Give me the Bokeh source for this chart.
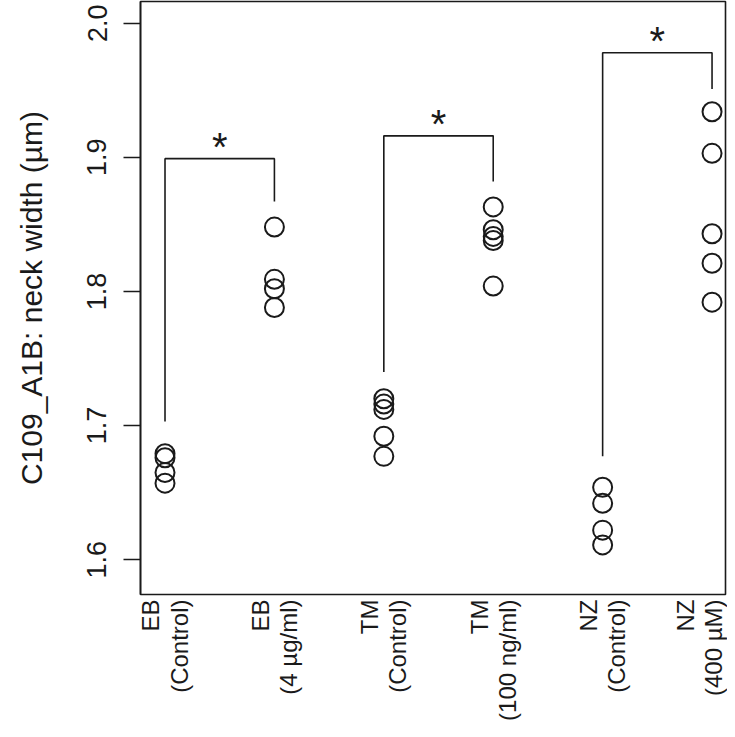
import math
from bokeh.plotting import figure
from bokeh.models import FixedTicker, ColumnDataSource, PrintfTickFormatter
from bokeh.core.properties import value
from bokeh.embed import file_html
from bokeh.resources import INLINE

# ---- data ----
group_labels = ["EB\n(Control)", "EB\n(4 µg/ml)", "TM\n(Control)",
                "TM\n(100 ng/ml)", "NZ\n(Control)", "NZ\n(400 µM)"]
eb_control = [1.679, 1.676, 1.665, 1.657]
eb_treated = [1.848, 1.809, 1.802, 1.788]
tm_control = [1.720, 1.716, 1.712, 1.692, 1.677]
tm_treated = [1.863, 1.846, 1.841, 1.838, 1.804]
nz_control = [1.654, 1.642, 1.622, 1.611]
nz_treated = [1.934, 1.903, 1.843, 1.821, 1.792]
groups = [eb_control, eb_treated, tm_control, tm_treated, nz_control, nz_treated]

# significance brackets: (left group, right group), ends, tops
bracket_pairs = [(1, 2), (3, 4), (5, 6)]
bracket_left_end = [1.703, 1.740, 1.677]
bracket_right_end = [1.867, 1.882, 1.951]
bracket_top = [1.899, 1.916, 1.978]
bracket_mark = ["*", "*", "*"]

yticks = [1.6, 1.7, 1.8, 1.9, 2.0]

FONT = "Liberation Sans"
INK = "#1a1a1a"

p = figure(width=727, height=729, output_backend="svg", toolbar_location=None,
           x_range=(0.776, 6.123), y_range=(1.574, 2.0162),
           min_border_left=140, min_border_right=2, min_border_top=1,
           min_border_bottom=135)
p.grid.visible = False
p.outline_line_color = INK
p.outline_line_width = 1.6
p.background_fill_color = "white"
p.border_fill_color = "white"

# points
xs, ys = [], []
for i, g in enumerate(groups):
    xs += [i + 1] * len(g)
    ys += g
p.scatter(x=xs, y=ys, size=19, marker="circle", fill_color=None,
          line_color=INK, line_width=2)

# brackets
bx, by = [], []
for (a, b), yl, yr, yt in zip(bracket_pairs, bracket_left_end, bracket_right_end, bracket_top):
    bx.append([a, a, b, b])
    by.append([yl, yt, yt, yr])
p.multi_line(xs=bx, ys=by, line_color=INK, line_width=1.6)

src = ColumnDataSource(dict(x=[(a + b) / 2 for a, b in bracket_pairs],
                            y=bracket_top, t=bracket_mark))
p.text(x="x", y="y", text="t", source=src, text_font=value(FONT),
       text_font_size="40px", text_align="center", text_baseline="alphabetic",
       y_offset=-12, text_color=INK)

# y axis
ya = p.yaxis[0]
ya.ticker = FixedTicker(ticks=yticks)
ya.formatter = PrintfTickFormatter(format="%.1f")
ya.minor_tick_line_color = None
ya.major_tick_out = 17
ya.major_tick_in = 0
ya.major_tick_line_width = 1.6
ya.major_tick_line_color = INK
ya.axis_line_color = INK
ya.axis_line_width = 1.6
ya.major_label_orientation = "vertical"
ya.major_label_text_font = FONT
ya.major_label_text_font_size = "27px"
ya.major_label_text_color = INK
ya.major_label_standoff = 17
ya.axis_label = "C109_A1B: neck width (µm)"
ya.axis_label_text_font = FONT
ya.axis_label_text_font_size = "30px"
ya.axis_label_text_font_style = "normal"
ya.axis_label_text_color = INK
ya.axis_label_standoff = 37

# x axis
xa = p.xaxis[0]
xa.ticker = FixedTicker(ticks=[1, 2, 3, 4, 5, 6])
xa.major_label_overrides = {i + 1: lab for i, lab in enumerate(group_labels)}
xa.major_label_orientation = math.pi / 2
xa.major_label_text_font = FONT
xa.major_label_text_font_size = "24px"
xa.major_label_text_color = INK
xa.major_label_text_line_height = 1.05
xa.major_label_standoff = 5
xa.major_tick_out = 0
xa.major_tick_in = 0
xa.major_tick_line_color = None
xa.minor_tick_line_color = None
xa.axis_line_color = None

open("out.html", "w").write(file_html(p, INLINE))
